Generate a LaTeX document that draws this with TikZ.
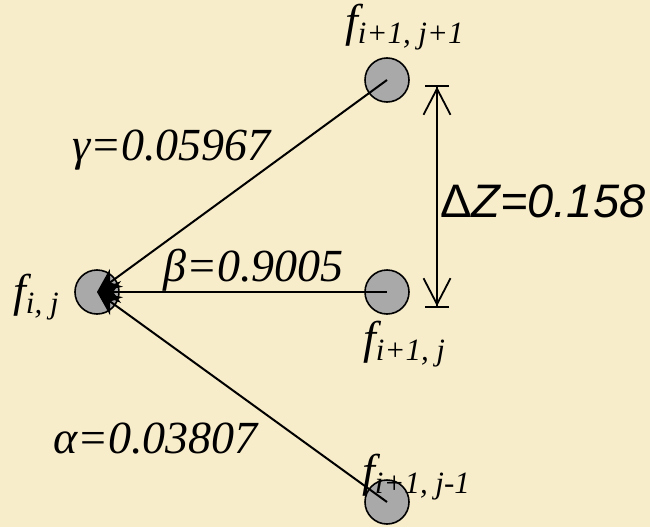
\documentclass[tikz,border=0pt]{standalone}
\usepackage{fontspec}
\newfontfamily\tms{Liberation Serif}
\newfontfamily\arl{Liberation Sans}
\usetikzlibrary{arrows.meta}
\definecolor{parch}{HTML}{F8EDCB}
\definecolor{knot}{HTML}{A9A9A9}
\newcommand{\fl}[1]{{\tms\itshape f\raisebox{-7pt}{\fontsize{31}{31}\selectfont #1}}}
\tikzset{
  pt/.style ={circle, draw=black, line width=1.6pt, fill=knot, minimum size=44pt, inner sep=0pt},
  lbl/.style={font=\fontsize{46}{48}\selectfont\tms\itshape, inner sep=0pt, anchor=base west},
  dzl/.style={font=\fontsize{47}{49}\selectfont\arl\itshape, inner sep=0pt, anchor=base west},
  ln/.style ={draw=black, line width=2pt, -{Stealth[length=24pt,width=22pt]}},
  dim/.style={draw=black, line width=1.8pt,
    {Bar[width=24pt]Straight Barb[length=26pt,width=27pt]}-{Straight Barb[length=26pt,width=27pt]Bar[width=24pt]}},
}

\begin{document}
\begin{tikzpicture}[x=1pt,y=-1pt]
    \fill[parch] (0,0) rectangle (650,527);
    \useasboundingbox (0,0) rectangle (650,527);

    \node[pt] (fij)  at (97,292) {};
    \node[pt] (fup)  at (387,80) {};
    \node[pt] (fmid) at (387,292) {};
    \node[pt] (flow) at (387,502) {};

    \node[lbl] (tij)  at (13,306)  {\fl{i, j}};
    \node[lbl] (tup)  at (345,37)  {\fl{i+1, j+1}};
    \node[lbl] (tmid) at (363,353) {\fl{i+1, j}};
    \node[lbl] (tlow) at (362,486) {\fl{i+1, j-1}};

    \node[lbl] (gam) at (72,160)  {γ=0.05967};
    \node[lbl] (bet) at (163,281) {β=0.9005};
    \node[lbl] (alp) at (53,453)  {α=0.03807};

    \coordinate (dzt) at (437,85);
    \coordinate (dzb) at (437,308);
    \node[dzl] (dz) at (440,217) {{\upshape Δ}Z=0.158};

    \draw[ln] (fup.center) -- (fij.center);
    \draw[ln] (fmid.center) -- (fij.center);
    \draw[ln] (flow.center) -- (fij.center);
    \draw[dim] (dzt) -- (dzb);
  \end{tikzpicture}
\end{document}
